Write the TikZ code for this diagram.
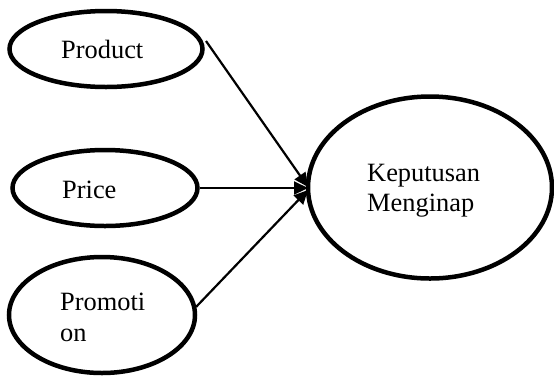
\documentclass[tikz,border=0pt]{standalone}
\usepackage{fontspec}
\setmainfont{Liberation Serif}
\usetikzlibrary{shapes.geometric,arrows.meta}
\begin{document}
\begin{tikzpicture}[x=1pt,y=-1pt,
  oval/.style={ellipse,draw,line width=4.5pt,inner sep=0pt},
  lbl/.style={anchor=base west,inner sep=0pt,font=\fontsize{26.4}{30.5}\selectfont},
  conn/.style={line width=2.2pt,-{Triangle[length=14pt,width=13pt]}}]
\useasboundingbox (0,0) rectangle (554,376);
\node[oval,minimum width=193pt,minimum height=76pt] (product) at (106,49) {};
\node[oval,minimum width=185pt,minimum height=76pt] (price) at (105,188) {};
\node[oval,minimum width=186pt,minimum height=116pt] (promotion) at (102,315) {};
\node[oval,minimum width=244pt,minimum height=182pt] (kep) at (430,187.5) {};
\node[lbl] (tproduct) at (61,58) {Product};
\node[lbl] (tprice) at (62,198) {Price};
\node[lbl] (tpromoa) at (60,310) {Promoti};
\node[lbl] (tpromob) at (60,341) {on};
\node[lbl] (tkepa) at (367,181) {Keputusan};
\node[lbl] (tkepb) at (367,211) {Menginap};
\coordinate (s1) at (206,41);
\coordinate (s3) at (196,307);
\coordinate (e1) at (308,187);
\coordinate (e2) at (308,188);
\coordinate (e3) at (308,190);
\draw[conn] (s1) -- (e1);
\draw[conn] (price.east) -- (e2);
\draw[conn] (s3) -- (e3);
\end{tikzpicture}
\end{document}
